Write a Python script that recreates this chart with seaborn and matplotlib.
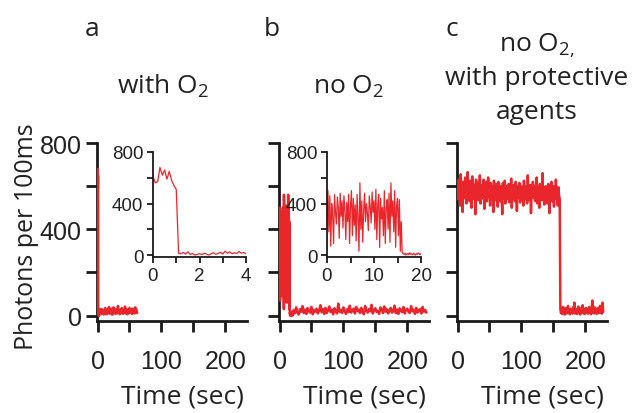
import numpy as np
import pandas as pd
import seaborn as sns
import matplotlib.pyplot as plt

# ---------------- data (photon counts) ----------------
# a: with O2 -- first 4 s at 100 ms bins (inset), then 1 s samples up to ~61 s
a_fast_step = 0.1
a_fast_counts = [610, 560, 570, 680, 620, 660, 590, 650, 580, 540,
                 510, 15, 10, 20, 8, 25, 5, 12, 0, 6,
                 10, 4, 14, 8, 0, 10, 18, 6, 12, 22,
                 8, 30, 14, 25, 10, 18, 12, 28, 15, 20, 10]
a_slow_start = 5
a_slow_step = 1
a_slow_counts = [20, 8, 30, 12, 25, 5, 18, 35, 10, 22, 6, 28, 15, 40, 9, 24,
                 12, 32, 4, 20, 38, 14, 26, 8, 30, 18, 10, 45, 16, 22, 6, 28,
                 12, 35, 20, 8, 25, 14, 42, 10, 18, 30, 6, 24, 15, 36, 12, 20,
                 28, 8, 32, 16, 22, 10, 38, 14, 26, 12]

# b: no O2 -- first 20.8 s at 200 ms (inset), then 2 s samples up to ~230 s
b_fast_step = 0.2
b_fast_counts = [220, 500, 180, 460, 70, 400, 310, 90, 470, 330,
                 240, 450, 370, 130, 480, 300, 420, 210, 460, 350,
                 120, 410, 260, 470, 90, 380, 500, 150, 440, 230,
                 390, 110, 470, 300, 30, 560, 200, 420, 100, 350,
                 480, 260, 400, 320, 190, 460, 370, 250, 490, 330,
                 420, 200, 510, 120, 390, 470, 60, 440, 280, 370,
                 150, 500, 90, 360, 430, 200, 480, 100, 560, 300,
                 420, 180, 500, 60, 380, 440, 150, 430, 30, 260,
                 20, 10, 5, 15, 0, 8, 12, 3, 18, 6,
                 10, 2, 14, 7, 0, 11, 5, 16, 9, 4,
                 13, 8, 1, 12, 6]
b_slow_start = 22
b_slow_step = 2
b_slow_counts = [25, 10, 38, 15, 5, 30, 18, 44, 12, 28, 8, 35, 20, 14, 40, 6,
                 26, 18, 32, 10, 22, 48, 15, 30, 8, 36, 12, 24, 42, 16, 28, 6,
                 34, 20, 10, 55, 18, 26, 12, 38, 22, 8, 30, 16, 46, 14, 24, 32,
                 10, 40, 20, 28, 12, 36, 18, 6, 44, 24, 14, 30, 20, 50, 10, 26,
                 34, 16, 22, 8, 38, 28, 12, 42, 18, 30, 10, 24, 36, 14, 20, 46,
                 12, 28, 8, 34, 22, 16, 40, 10, 26, 32, 18, 12, 44, 20, 28, 8,
                 36, 14, 24, 30, 10, 40, 18, 26, 14]

# c: no O2 with protective agents -- 1 s samples
c_step = 1
c_counts = [600, 540, 630, 575, 510, 655, 560, 600, 480, 620, 590, 545, 640, 570, 520, 610, 665, 555, 595, 530,
            625, 580, 500, 645, 565, 610, 540, 590, 470, 630, 575, 615, 535, 600, 555, 650, 520, 585, 605, 545,
            570, 630, 495, 600, 560, 620, 530, 585, 640, 550, 595, 510, 615, 570, 540, 600, 480, 625, 560, 590,
            535, 610, 575, 505, 620, 550, 595, 530, 600, 565, 470, 615, 545, 585, 625, 520, 570, 600, 540, 580,
            610, 525, 590, 555, 635, 500, 575, 605, 545, 590, 530, 620, 560, 485, 600, 570, 545, 615, 525, 580,
            600, 550, 590, 510, 625, 565, 540, 600, 575, 520, 650, 560, 590, 535, 605, 475, 580, 550, 620, 545,
            570, 600, 530, 585, 640, 520, 565, 595, 500, 610, 555, 580, 535, 660, 545, 590, 515, 575, 600, 540,
            580, 520, 610, 560, 475, 595, 545, 620, 530, 575, 600, 505, 585, 550, 630, 540, 570, 510, 595, 555,
            540,
            30, 12, 25, 8, 40, 15, 22, 5, 35, 18, 10, 28, 45, 12, 20, 6, 32, 15, 25, 9,
            38, 14, 60, 10, 24, 30, 8, 18, 42, 12, 26, 5, 34, 16, 20, 48, 11, 28, 7, 22,
            36, 14, 30, 9, 18, 40, 12, 25, 6, 33, 70, 15, 22, 10, 38, 17, 28, 8, 24, 35,
            12, 20, 45, 14, 30, 9, 60, 18]

panel_letters = ['a', 'b', 'c']
title_a = r'with O$_\mathrm{2}$'
title_b = r'no O$_\mathrm{2}$'
title_c = [r'no O$_\mathrm{2,}$', 'with protective', 'agents']
main_yticks = [0, 200, 400, 600, 800]
main_ylabels = ['0', '', '400', '', '800']
main_xticks = [0, 50, 100, 150, 200]
main_xlabels = ['0', '', '100', '', '200']
inset_yticks = [0, 200, 400, 600, 800]
inset_ylabels = ['0', '', '400', '', '800']
inset_a_xticks = [0, 1, 2, 3, 4]
inset_a_xlabels = ['0', '', '2', '', '4']
inset_b_xticks = [0, 5, 10, 15, 20]
inset_b_xlabels = ['0', '', '10', '', '20']


def trace(counts, step, start=0.0):
    t = start + np.arange(len(counts)) * step
    return pd.DataFrame({'t': t, 'counts': counts})


a_fast = trace(a_fast_counts, a_fast_step)
a_full = pd.concat([a_fast, trace(a_slow_counts, a_slow_step, a_slow_start)])
b_fast = trace(b_fast_counts, b_fast_step)
b_full = pd.concat([b_fast, trace(b_slow_counts, b_slow_step, b_slow_start)])
c_full = trace(c_counts, c_step)

# ---------------- style ----------------
sns.set_style('ticks')
plt.rcParams['font.family'] = ['Open Sans', 'DejaVu Sans']
plt.rcParams['mathtext.fontset'] = 'custom'
plt.rcParams['mathtext.rm'] = 'Open Sans'
red = '#e8262b'
W, H = 632, 414
tick_font = 'Liberation Sans'


def px_axes(fig, left, top, right, bottom):
    return fig.add_axes([left / W, 1 - bottom / H, (right - left) / W, (bottom - top) / H])


def style_axes(ax, lw, tick_len, fsize):
    sns.despine(ax=ax)
    for side in ['left', 'bottom']:
        ax.spines[side].set_linewidth(lw)
        ax.spines[side].set_color('#1a1a1a')
    ax.tick_params(width=lw, length=tick_len, color='#1a1a1a', labelsize=fsize,
                   labelcolor='#222222', pad=3, labelfontfamily=tick_font)
    ax.set_xlabel('')
    ax.set_ylabel('')
    ax.set_facecolor('none')


fig = plt.figure(figsize=(W / 100, H / 100), dpi=100)

main_lefts = [97, 279, 457]
for i, df in enumerate([a_full, b_full, c_full]):
    ax = px_axes(fig, main_lefts[i], 144, main_lefts[i] + 150, 322)
    sns.lineplot(data=df, x='t', y='counts', ax=ax, color=red, linewidth=1.8,
                 estimator=None, sort=False, zorder=3)
    ax.set_xlim(-0.8, 234)
    ax.set_ylim(-25, 800)
    ax.set_xticks(main_xticks)
    ax.set_xticklabels(main_xlabels)
    ax.set_yticks(main_yticks)
    ax.set_yticklabels(main_ylabels if i == 0 else [''] * len(main_yticks))
    style_axes(ax, 2.0, 8, 18)
    ax.tick_params(axis='x', pad=12)

# insets
ins_a = px_axes(fig, 153, 153, 246, 258)
sns.lineplot(data=a_fast, x='t', y='counts', ax=ins_a, color=red, linewidth=0.9,
             estimator=None, sort=False)
ins_a.set_xlim(0, 4)
ins_a.set_xticks(inset_a_xticks)
ins_a.set_xticklabels(inset_a_xlabels)

ins_b = px_axes(fig, 327, 153, 421, 258)
sns.lineplot(data=b_fast, x='t', y='counts', ax=ins_b, color=red, linewidth=0.9,
             estimator=None, sort=False)
ins_b.set_xlim(0, 20)
ins_b.set_xticks(inset_b_xticks)
ins_b.set_xticklabels(inset_b_xlabels)

for ax in [ins_a, ins_b]:
    ax.set_ylim(-15, 800)
    ax.set_yticks(inset_yticks)
    ax.set_yticklabels(inset_ylabels)
    style_axes(ax, 1.3, 4, 13.5)

# text
text_kw = dict(color='#222222', fontsize=19)
for x, letter in zip([92, 272, 452], panel_letters):
    fig.text(x / W, 1 - 30 / H, letter, ha='center', va='center', **text_kw)
fig.text(163 / W, 1 - 94 / H, title_a, ha='center', va='baseline', **text_kw)
fig.text(349 / W, 1 - 94 / H, title_b, ha='center', va='baseline', **text_kw)
for line, base in zip(title_c, [51, 85, 119]):
    fig.text(537 / W, 1 - base / H, line, ha='center', va='baseline', **text_kw)
for x in main_lefts:
    fig.text((x + 85) / W, 1 - 397 / H, 'Time (sec)', ha='center', va='center', **text_kw)
fig.text(27 / W, 1 - 237 / H, 'Photons per 100ms', rotation=90,
         ha='center', va='center', color='#222222', fontsize=18)

fig.savefig('out.png', dpi=100)
